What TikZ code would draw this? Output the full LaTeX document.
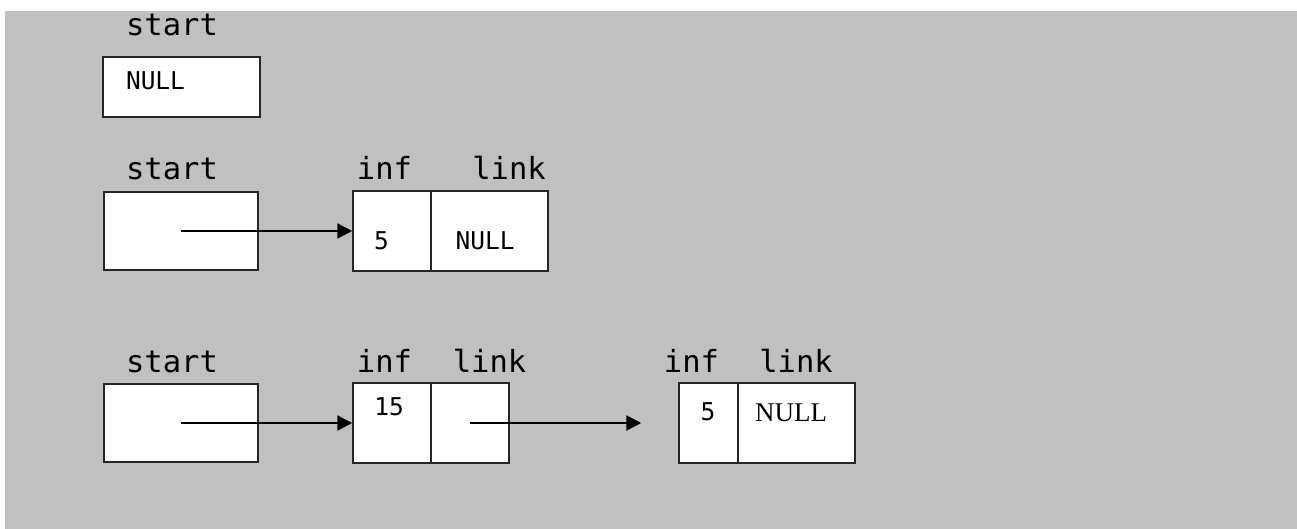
\documentclass[tikz,border=0pt]{standalone}
\usepackage{fontspec}
\newfontfamily\lblfont{DejaVu Sans Mono}
\newfontfamily\serfont{Liberation Serif}
\usetikzlibrary{arrows.meta}
\definecolor{bggray}{HTML}{C0C0C0}
\begin{document}
\begin{tikzpicture}[x=1pt,y=-1pt,
  cell/.style={draw=black!85,fill=white,line width=1.5pt,rectangle,inner sep=0pt},
  lbl/.style={anchor=base,inner sep=0pt,font=\lblfont\fontsize{30.5}{32}\selectfont},
  val/.style={anchor=base,inner sep=0pt,font=\lblfont\fontsize{24.5}{26}\selectfont},
  sval/.style={anchor=base,inner sep=0pt,font=\serfont\fontsize{27}{29}\selectfont},
  arr/.style={line width=2.2pt,-{Triangle[length=15pt,width=15pt]}}]
\useasboundingbox (0,0) rectangle (1297,529);
\fill[white] (0,0) rectangle (1297,529);
\fill[bggray] (5,11) rectangle (1297,529);
% row 1
\node[lbl] (l1s) at (172,36) {start};
\node[cell,minimum width=157,minimum height=60] (s1) at (181.5,87) {};
\node[val] (t1) at (155.5,90) {NULL};
% row 2
\node[lbl] (l2s) at (172,180) {start};
\node[lbl] (l2i) at (384.5,180) {inf};
\node[lbl] (l2l) at (509,180) {link};
\node[cell,minimum width=154,minimum height=78] (s2) at (181,231) {};
\node[cell,minimum width=78,minimum height=80] (n2i) at (392,231) {};
\node[cell,minimum width=117,minimum height=80] (n2l) at (489.5,231) {};
\node[val] (t2a) at (381.5,250) {5};
\node[val] (t2b) at (485,250) {NULL};
\draw[arr] (s2.center) -- (n2i.west);
% row 3
\node[lbl] (l3s) at (172,372) {start};
\node[lbl] (l3i) at (384.5,372) {inf};
\node[lbl] (l3l) at (489.5,372) {link};
\node[lbl] (l4i) at (691.5,372) {inf};
\node[lbl] (l4l) at (796,372) {link};
\node[cell,minimum width=154,minimum height=78] (s3) at (181,423) {};
\node[cell,minimum width=78,minimum height=80] (n3i) at (392,423) {};
\node[cell,minimum width=78,minimum height=80] (n3l) at (470,423) {};
\node[cell,minimum width=59,minimum height=80] (n4i) at (708.5,423) {};
\node[cell,minimum width=117,minimum height=80] (n4l) at (796.5,423) {};
\node[val] (t3a) at (389,415) {15};
\node[val] (t4a) at (708,420) {5};
\node[sval] (t4b) at (791,421) {NULL};
\draw[arr] (s3.center) -- (n3i.west);
\draw[arr,shorten >=37pt] (n3l.center) -- (n4i.west);
\end{tikzpicture}
\end{document}
